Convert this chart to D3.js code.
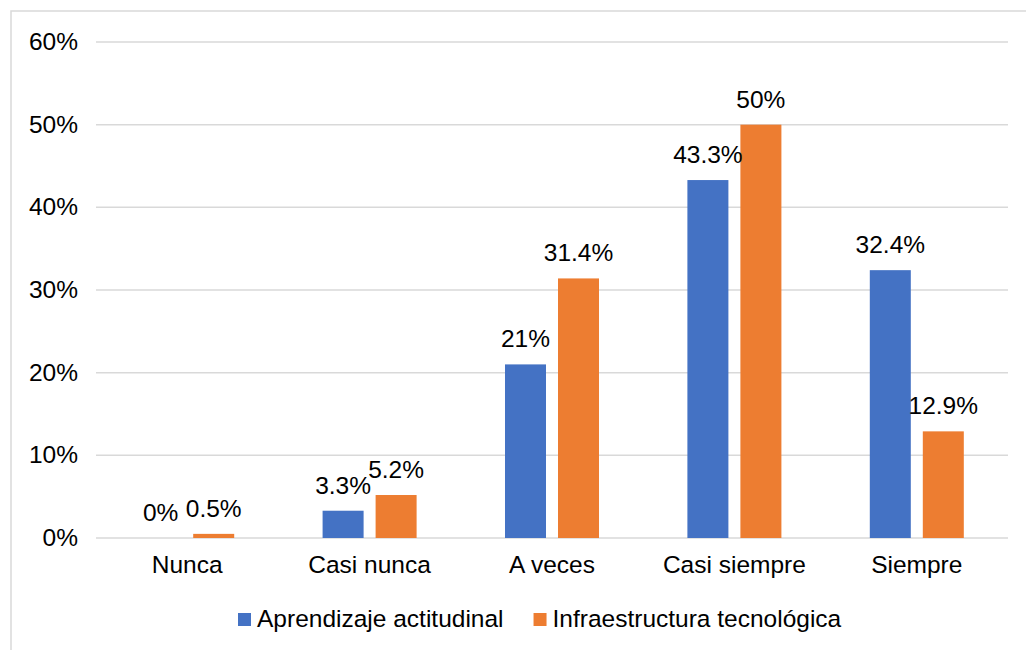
<!DOCTYPE html>
<html>
<head>
<meta charset="utf-8">
<script src="https://cdn.jsdelivr.net/npm/d3@7"></script>
<style>
  body { margin: 0; background: #fff; }
  svg { display: block; font-family: "Liberation Sans", Arial, sans-serif; }
</style>
</head>
<body>
<svg width="1026" height="650"></svg>
<script>
// data
const categories = ["Nunca", "Casi nunca", "A veces", "Casi siempre", "Siempre"];
const seriesNames = ["Aprendizaje actitudinal", "Infraestructura tecnológica"];
const aprendizaje = [0, 3.3, 21, 43.3, 32.4];
const infraestructura = [0.5, 5.2, 31.4, 50, 12.9];
const yTicks = [0, 10, 20, 30, 40, 50, 60];
const colors = ["#4472C4", "#ED7D31"];

const svg = d3.select("svg");
const fontSize = 24.5;

// chart border (only top/left visible in the picture)
svg.append("rect")
  .attr("x", 11).attr("y", 11)
  .attr("width", 1030).attr("height", 660)
  .attr("fill", "none")
  .attr("stroke", "#d9d9d9")
  .attr("stroke-width", 1.5);

const plot = { left: 96, right: 1008, top: 42, bottom: 538 };

const y = d3.scaleLinear().domain([0, 60]).range([plot.bottom, plot.top]);
const x0 = d3.scaleBand().domain(categories)
  .range([plot.left, plot.right])
  .paddingInner(0.4846).paddingOuter(0.2423);
const x1 = d3.scaleBand().domain(seriesNames)
  .range([0, x0.bandwidth()])
  .paddingInner(0.2264);

// gridlines
svg.append("g")
  .selectAll("line")
  .data(yTicks)
  .join("line")
  .attr("x1", plot.left).attr("x2", plot.right)
  .attr("y1", d => y(d)).attr("y2", d => y(d))
  .attr("stroke", "#d9d9d9")
  .attr("stroke-width", 1.5);

// y tick labels
svg.append("g")
  .selectAll("text")
  .data(yTicks)
  .join("text")
  .attr("x", 78)
  .attr("y", d => y(d) + 8)
  .attr("text-anchor", "end")
  .attr("font-size", fontSize)
  .attr("fill", "#000")
  .text(d => d + "%");

// bars
const rows = categories.map((c, i) => ({
  cat: c,
  vals: [aprendizaje[i], infraestructura[i]]
}));

const groups = svg.append("g")
  .selectAll("g")
  .data(rows)
  .join("g")
  .attr("transform", d => `translate(${x0(d.cat)},0)`);

groups.selectAll("rect")
  .data(d => d.vals.map((v, k) => ({ v, k })))
  .join("rect")
  .attr("x", d => x1(seriesNames[d.k]))
  .attr("width", x1.bandwidth())
  .attr("y", d => y(d.v))
  .attr("height", d => y(0) - y(d.v))
  .attr("fill", d => colors[d.k]);

groups.selectAll("text")
  .data(d => d.vals.map((v, k) => ({ v, k })))
  .join("text")
  .attr("x", d => x1(seriesNames[d.k]) + x1.bandwidth() / 2)
  .attr("y", d => y(d.v) - 17)
  .attr("text-anchor", "middle")
  .attr("font-size", fontSize)
  .attr("fill", "#000")
  .text(d => d.v + "%");

// x labels
svg.append("g")
  .selectAll("text")
  .data(categories)
  .join("text")
  .attr("x", d => x0(d) + x0.bandwidth() / 2)
  .attr("y", 573)
  .attr("text-anchor", "middle")
  .attr("font-size", fontSize)
  .attr("fill", "#000")
  .text(d => d);

// legend
const legend = svg.append("g");
let lx = 238;
seriesNames.forEach((name, i) => {
  legend.append("rect")
    .attr("x", lx).attr("y", 613)
    .attr("width", 13).attr("height", 13)
    .attr("fill", colors[i]);
  const t = legend.append("text")
    .attr("x", lx + 19)
    .attr("y", 627)
    .attr("font-size", fontSize)
    .attr("fill", "#000")
    .text(name);
  lx = lx + 19 + t.node().getComputedTextLength() + 30;
});
</script>
</body>
</html>
